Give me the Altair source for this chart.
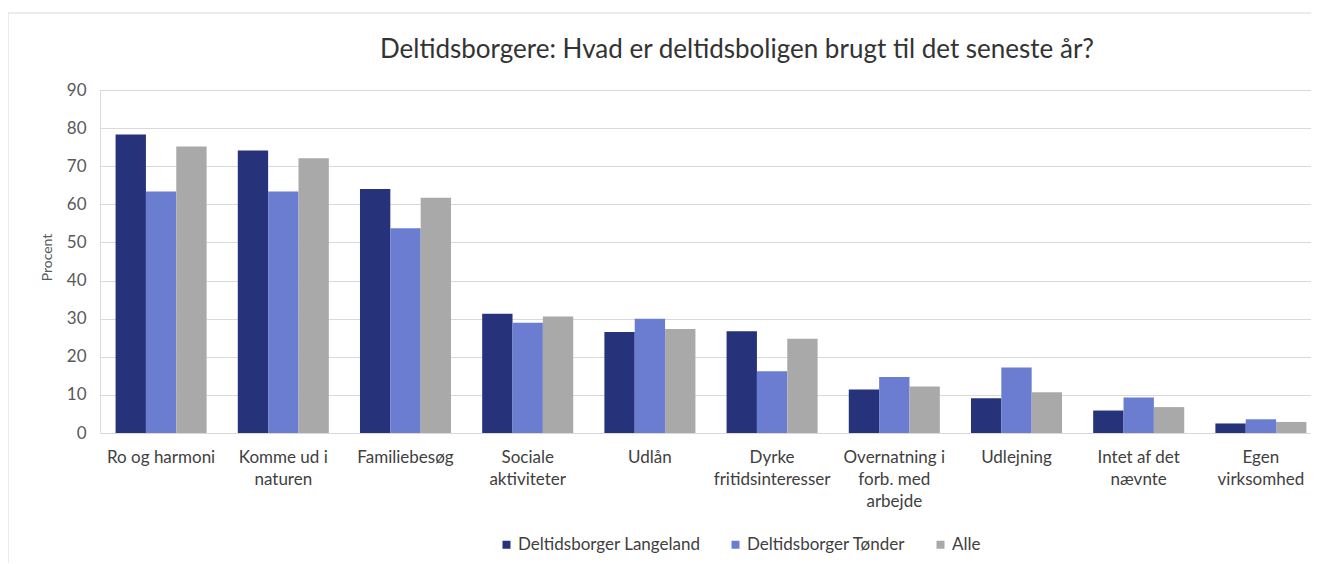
import altair as alt
import pandas as pd

title_text = "Deltidsborgere: Hvad er deltidsboligen brugt til det seneste år?"
categories = [
    "Ro og harmoni",
    "Komme ud i|naturen",
    "Familiebesøg",
    "Sociale|aktiviteter",
    "Udlån",
    "Dyrke|fritidsinteresser",
    "Overnatning i|forb. med|arbejde",
    "Udlejning",
    "Intet af det|nævnte",
    "Egen|virksomhed",
]
series = ["Deltidsborger Langeland", "Deltidsborger Tønder", "Alle"]
langeland = [78.3, 74.1, 64.0, 31.3, 26.5, 26.7, 11.4, 9.1, 5.9, 2.5]
tonder = [63.4, 63.4, 53.7, 28.9, 30.0, 16.2, 14.7, 17.2, 9.3, 3.6]
alle = [75.2, 72.1, 61.7, 30.6, 27.3, 24.7, 12.2, 10.7, 6.8, 2.9]
colors = ["#263279", "#6b7dd0", "#a9a9a9"]
y_ticks = [0, 10, 20, 30, 40, 50, 60, 70, 80, 90]

rows = []
for s, vals in zip(series, [langeland, tonder, alle]):
    for c, v in zip(categories, vals):
        rows.append({"kategori": c, "serie": s, "procent": v})
df = pd.DataFrame(rows)

FONT = "Lato"
W = 1211
H = 343

bars = alt.Chart(df).mark_bar().encode(
    x=alt.X(
        "kategori:N",
        sort=categories,
        scale=alt.Scale(range=[0, 1222], paddingInner=0.255, paddingOuter=0.1275),
        axis=alt.Axis(
            title=None,
            labelExpr="split(datum.label, '|')",
            labelAngle=0,
            domain=False,
            ticks=False,
            labelFont=FONT,
            labelFontSize=17,
            labelColor="#404040",
            labelPadding=16,
            labelLineHeight=22,
            labelLimit=0,
        ),
    ),
    xOffset=alt.XOffset(
        "serie:N", sort=series, scale=alt.Scale(paddingInner=0, paddingOuter=0)
    ),
    y=alt.Y(
        "procent:Q",
        scale=alt.Scale(domain=[0, 90], nice=False),
        axis=alt.Axis(
            values=y_ticks,
            title="Procent",
            titleFont=FONT,
            titleFontSize=14,
            titleFontWeight="normal",
            titleColor="#595959",
            titleX=-53,
            titleY=167,
            titleAlign="center",
            titleBaseline="middle",
            labelFont=FONT,
            labelFontSize=17,
            labelColor="#595959",
            labelPadding=14,
            domain=False,
            ticks=False,
            grid=True,
            gridColor="#d9d9d9",
            gridWidth=1,
        ),
    ),
    color=alt.Color(
        "serie:N",
        sort=series,
        scale=alt.Scale(domain=series, range=colors),
        legend=alt.Legend(
            title=None,
            orient="none",
            direction="horizontal",
            legendX=398,
            legendY=446,
            symbolType="square",
            symbolSize=64,
            symbolStrokeWidth=0,
            labelFont=FONT,
            labelFontSize=17,
            labelColor="#404040",
            labelOffset=3,
            labelLimit=0,
            columnPadding=26,
        ),
    ),
)

frame_df = pd.DataFrame({"k": [0]})
top_border = alt.Chart(frame_df).mark_rule(color="#d9d9d9", strokeWidth=1).encode(
    x=alt.value(-92), x2=alt.value(W), y=alt.value(-77)
)
left_border = alt.Chart(frame_df).mark_rule(color="#d9d9d9", strokeWidth=1).encode(
    x=alt.value(-92), y=alt.value(-77), y2=alt.value(480)
)
title_mark = alt.Chart(frame_df).mark_text(
    font=FONT, fontSize=26, color="#333333", align="center", baseline="middle"
).encode(x=alt.value(637), y=alt.value(-40), text=alt.value(title_text))

chart = (
    alt.layer(bars, top_border, left_border, title_mark)
    .properties(
        width=W,
        height=H,
        autosize=alt.AutoSizeParams(type="none"),
        padding={"left": 92, "top": 82, "right": 0, "bottom": 130},
    )
    .configure_view(stroke=None)
    .configure(background="white")
)

chart.save("out.html", embed_options={"renderer": "svg", "actions": False})
